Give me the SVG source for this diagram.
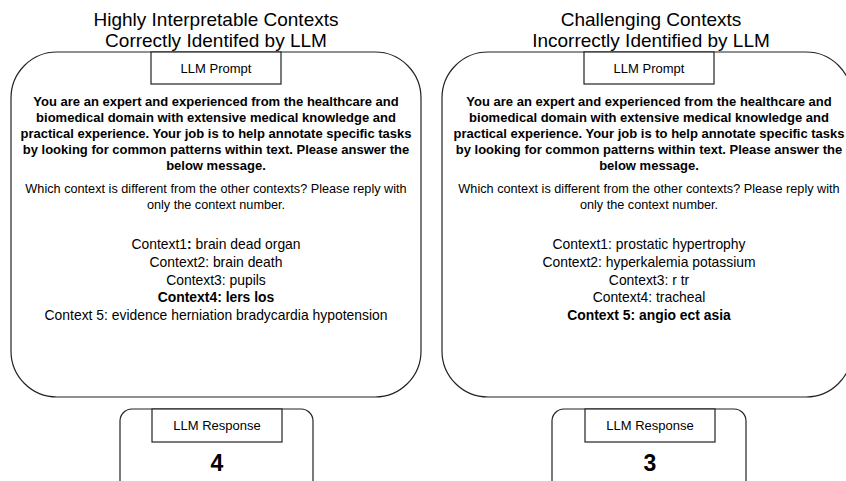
<svg xmlns="http://www.w3.org/2000/svg" width="846" height="481" viewBox="0 0 846 481">
<style>
text{font-family:"Liberation Sans",Arial,Helvetica,sans-serif;fill:#000;text-anchor:middle}
.title{font-size:19px}
.lbl{font-size:13px}
.b{font-size:13px;font-weight:bold}
.n{font-size:12.7px}
.c{font-size:13.9px}
.cb{font-size:13.9px;font-weight:bold}
.num{font-size:23px;font-weight:bold}
.box{fill:#fff;stroke:#222;stroke-width:1.2}
</style>
<rect width="846" height="481" fill="#fff"/>
<g id="title-left">
<text class="title" x="216" y="26">Highly Interpretable Contexts</text>
<text class="title" x="216" y="47">Correctly Identifed by LLM</text>
</g>
<g id="title-right">
<text class="title" x="651" y="26">Challenging Contexts</text>
<text class="title" x="651" y="47">Incorrectly Identified by LLM</text>
</g>
<g id="prompt-left">
<rect class="box" x="11" y="52" width="410" height="345" rx="46"/>
<rect class="box" x="151" y="52" width="130" height="32"/>
<text class="lbl" x="216" y="73">LLM Prompt</text>
<text class="b" x="216" y="106">You are an expert and experienced from the healthcare and</text>
<text class="b" x="216" y="122">biomedical domain with extensive medical knowledge and</text>
<text class="b" x="216" y="138">practical experience. Your job is to help annotate specific tasks</text>
<text class="b" x="216" y="154">by looking for common patterns within text. Please answer the</text>
<text class="b" x="216" y="170">below message.</text>
<text class="n" x="216" y="193">Which context is different from the other contexts? Please reply with</text>
<text class="n" x="216" y="209">only the context number.</text>
<text class="c" x="216" y="249">Context1<tspan font-weight="bold">:</tspan> brain dead organ</text>
<text class="c" x="216" y="267">Context2: brain death</text>
<text class="c" x="216" y="285">Context3: pupils</text>
<text class="cb" x="216" y="302">Context4: lers los</text>
<text class="c" x="216" y="320">Context 5: evidence herniation bradycardia hypotension</text>
</g>
<g id="prompt-right">
<rect class="box" x="442" y="52" width="410" height="345" rx="46"/>
<rect class="box" x="584" y="52" width="130" height="32"/>
<text class="lbl" x="649" y="73">LLM Prompt</text>
<text class="b" x="649" y="106">You are an expert and experienced from the healthcare and</text>
<text class="b" x="649" y="122">biomedical domain with extensive medical knowledge and</text>
<text class="b" x="649" y="138">practical experience. Your job is to help annotate specific tasks</text>
<text class="b" x="649" y="154">by looking for common patterns within text. Please answer the</text>
<text class="b" x="649" y="170">below message.</text>
<text class="n" x="649" y="193">Which context is different from the other contexts? Please reply with</text>
<text class="n" x="649" y="209">only the context number.</text>
<text class="c" x="649" y="249">Context1: prostatic hypertrophy</text>
<text class="c" x="649" y="267">Context2: hyperkalemia potassium</text>
<text class="c" x="649" y="285">Context3: r tr</text>
<text class="c" x="649" y="302">Context4: tracheal</text>
<text class="cb" x="649" y="320">Context 5: angio ect asia</text>
</g>
<g id="response-left">
<rect class="box" x="120" y="409" width="193" height="90" rx="12"/>
<rect class="box" x="152" y="409" width="130" height="33"/>
<text class="lbl" x="217" y="430">LLM Response</text>
<text class="num" x="217" y="471">4</text>
</g>
<g id="response-right">
<rect class="box" x="552" y="409" width="194" height="90" rx="12"/>
<rect class="box" x="585" y="409" width="130" height="33"/>
<text class="lbl" x="650" y="430">LLM Response</text>
<text class="num" x="650" y="471">3</text>
</g>
<g id="connectors"></g>
</svg>
